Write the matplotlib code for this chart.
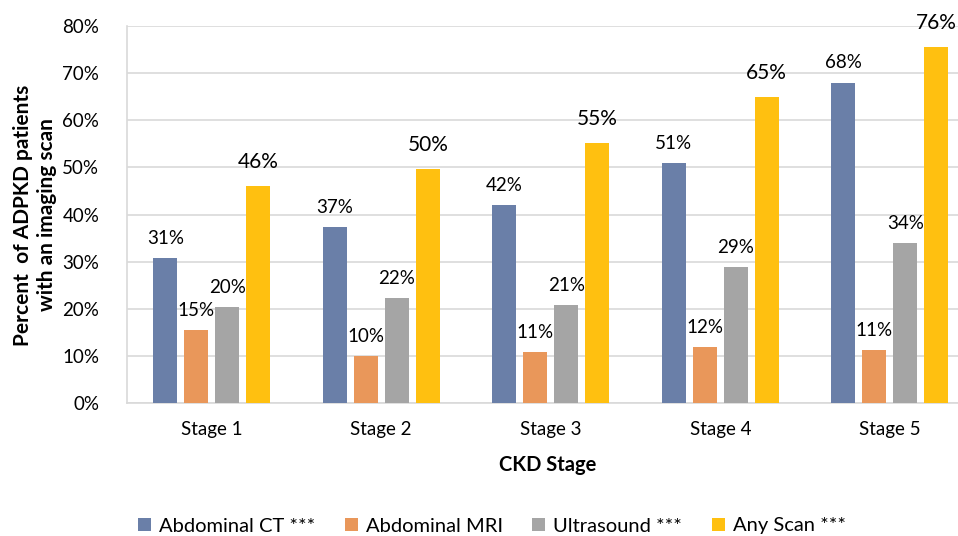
import matplotlib
matplotlib.use("Agg")
import matplotlib.pyplot as plt
import numpy as np

stages = ["Stage 1", "Stage 2", "Stage 3", "Stage 4", "Stage 5"]
series_names = ["Abdominal CT ***", "Abdominal MRI", "Ultrasound ***", "Any Scan ***"]
ct = [30.7, 37.3, 42.0, 51.0, 68.0]
mri = [15.4, 10.0, 10.9, 11.9, 11.3]
us = [20.3, 22.3, 20.8, 28.9, 34.0]
anyscan = [46.0, 49.6, 55.2, 65.0, 75.6]
ct_lbl = ["31%", "37%", "42%", "51%", "68%"]
mri_lbl = ["15%", "10%", "11%", "12%", "11%"]
us_lbl = ["20%", "22%", "21%", "29%", "34%"]
any_lbl = ["46%", "50%", "55%", "65%", "76%"]
yticks = [0, 10, 20, 30, 40, 50, 60, 70, 80]

colors = ["#6A7FA8", "#E9975A", "#A5A5A5", "#FFC010"]

plt.rcParams['font.family'] = ['Lato', 'DejaVu Sans']

W, H = 958, 536
fig = plt.figure(figsize=(W/100, H/100), dpi=100)
left, right, top, bottom = 127, 958, 26, 403
ax = fig.add_axes([left/W, 1-bottom/H, (right-left)/W, (bottom-top)/H])

cat_w = 169.5
x = np.arange(len(stages))
bw = 24/cat_w
step = 31/cat_w
data = [ct, mri, us, anyscan]
labels = [ct_lbl, mri_lbl, us_lbl, any_lbl]
fsz = [13.5, 13.5, 13.5, 15]
for i, (vals, lbls) in enumerate(zip(data, labels)):
    xs = x + (i-1.5)*step
    ax.bar(xs, vals, width=bw, color=colors[i], label=series_names[i], zorder=3)
    for xx, v, l in zip(xs, vals, lbls):
        ax.annotate(l, (xx, v), xytext=(0, 8 if i < 3 else 10), textcoords="offset points",
                    ha="center", va="bottom", fontsize=fsz[i], color="#000000", zorder=4)

ax.set_xlim(-0.5, -0.5 + (right-left)/cat_w)
ax.set_ylim(0, 80)
ax.set_yticks(yticks)
ax.set_yticklabels([f"{t}%" for t in yticks], fontsize=13.5)
ax.set_xticks(x)
ax.set_xticklabels(stages, fontsize=13.5)
ax.tick_params(axis='x', length=0, pad=13)
ax.tick_params(axis='y', length=0, pad=20)
ax.grid(axis='y', color="#D9D9D9", linewidth=1.2, zorder=0)
for s in ["top", "right"]:
    ax.spines[s].set_visible(False)
for s in ["left", "bottom"]:
    ax.spines[s].set_color("#D9D9D9")
    ax.spines[s].set_linewidth(1.2)

fig.text(35/W, 1-215/H, "Percent  of ADPKD patients\nwith an imaging scan", rotation=90,
         ha="center", va="center", fontsize=15, fontweight="bold", linespacing=1.25)
fig.text(548/W, 1-465/H, "CKD Stage", ha="center", va="center", fontsize=14.5, fontweight="bold")

handles, lbls = ax.get_legend_handles_labels()
fig.legend(handles, lbls, loc="center", bbox_to_anchor=(492/W, 1-526/H), ncol=4, frameon=False,
           fontsize=14.5, handlelength=0.65, handleheight=0.65, handletextpad=0.4, columnspacing=1.45)

fig.savefig("out.png", dpi=100)
